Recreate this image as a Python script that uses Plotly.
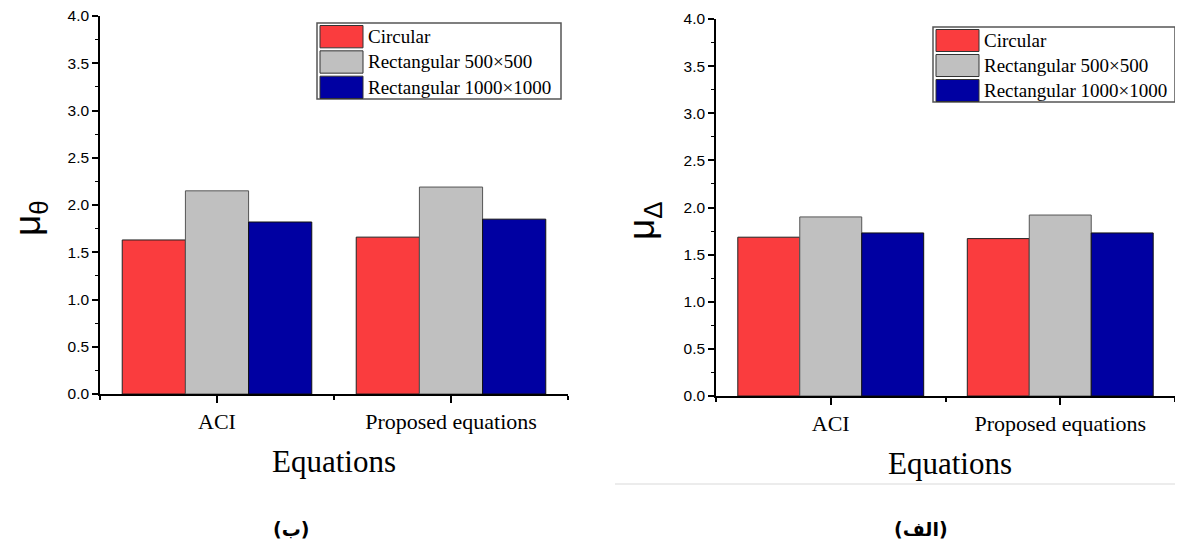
import plotly.graph_objects as go

# reference page size; the figure is offset by the page's 8px body margin
PAGE_W, PAGE_H = 1183, 554
OX, OY = 8, 8
W, H = PAGE_W - 2 * OX, PAGE_H - 2 * OY

categories = ["ACI", "Proposed equations"]
series_names = ["Circular", "Rectangular 500×500", "Rectangular 1000×1000"]
mu_theta = {
    "Circular": [1.63, 1.66],
    "Rectangular 500×500": [2.15, 2.19],
    "Rectangular 1000×1000": [1.82, 1.85],
}
mu_delta = {
    "Circular": [1.685, 1.67],
    "Rectangular 500×500": [1.90, 1.92],
    "Rectangular 1000×1000": [1.73, 1.73],
}
y_ticks = [0.0, 0.5, 1.0, 1.5, 2.0, 2.5, 3.0, 3.5, 4.0]

fill = {"Circular": "#FA3C3E", "Rectangular 500×500": "#C0C0C0", "Rectangular 1000×1000": "#0000A2"}
edge = {"Circular": "#222222", "Rectangular 500×500": "#555555", "Rectangular 1000×1000": "#111111"}


def px(x):
    return min(max((x - OX) / W, 0), 1)


def py(y):
    return min(max(1 - (y - OY) / H, 0), 1)


xpos = list(range(len(categories)))

fig = go.Figure()
for name in series_names:
    fig.add_trace(go.Bar(x=xpos, y=mu_theta[name], name=name, xaxis="x", yaxis="y",
                         marker=dict(color=fill[name], line=dict(color=edge[name], width=1)),
                         showlegend=False))
for name in series_names:
    fig.add_trace(go.Bar(x=xpos, y=mu_delta[name], name=name, xaxis="x2", yaxis="y2",
                         marker=dict(color=fill[name], line=dict(color=edge[name], width=1)),
                         showlegend=False))

tick_font = dict(family="Liberation Sans, Arial", size=15.5, color="#000")
cat_font = dict(family="Liberation Serif, Times New Roman", size=22, color="#000")


def xax(domain, anchor):
    return dict(domain=domain, anchor=anchor, range=[-0.5, len(categories) - 0.5], tickmode="array",
                tickvals=xpos, ticktext=categories, ticks="outside", ticklen=7, tickwidth=1.5,
                tickcolor="#000", showline=True, linecolor="#000", linewidth=1.5,
                showgrid=False, zeroline=False, tickfont=cat_font, automargin=False,
                ticklabeloverflow="allow",
                minor=dict(tickmode="linear", tick0=-0.5, dtick=1, ticks="outside", ticklen=4,
                           tickwidth=1.5, tickcolor="#000"))


def yax(domain, anchor):
    return dict(domain=domain, anchor=anchor, range=[0, 4], tickmode="array", tickvals=y_ticks,
                tickformat=".1f", ticks="outside", ticklen=6, tickwidth=1.5, tickcolor="#000",
                showline=True, linecolor="#000", linewidth=1.5, showgrid=False, zeroline=False,
                tickfont=tick_font, automargin=False, ticklabeloverflow="allow",
                minor=dict(tickmode="linear", tick0=0, dtick=0.25, ticks="outside", ticklen=3,
                           tickwidth=1.2, tickcolor="#000"))


fig.update_layout(
    width=W, height=H, autosize=False, margin=dict(l=0, r=0, t=0, b=0, pad=0),
    paper_bgcolor="white", plot_bgcolor="white",
    barmode="group", bargap=0.19, bargroupgap=0,
    xaxis=xax([px(100), px(568)], "y"),
    yaxis=yax([py(394), py(16)], "x"),
    xaxis2=xax([px(716), px(1183)], "y2"),
    yaxis2=yax([py(396), py(19)], "x2"),
)

annotations = []
shapes = []


def label(x, y, text, font, **kw):
    d = dict(x=px(x), y=py(y), xref="paper", yref="paper", text=text, showarrow=False,
             xanchor="center", yanchor="middle", font=font, borderpad=0)
    d.update(kw)
    annotations.append(d)


mu_font = dict(family="Liberation Sans, Arial", size=37, color="#000")
label(30, 218, "μ<sub>θ</sub>", mu_font, textangle=-90)
label(644, 220, "μ<sub>Δ</sub>", mu_font, textangle=-90)

eq_font = dict(family="Liberation Serif, Times New Roman", size=31, color="#000")
label(334, 461, "Equations", eq_font)
label(950, 463, "Equations", eq_font)

cap_font = dict(family="DejaVu Sans", size=19, color="#000")
label(291, 529, "<b>(ب)</b>", cap_font)
label(921, 529, "<b>(الف)</b>", cap_font)

# legends
leg_font = dict(family="Liberation Serif, Times New Roman", size=19, color="#000")
for (bx0, by0, bx1, by1) in [(317, 23, 561, 99), (933, 27, 1177, 102)]:
    shapes.append(dict(type="rect", xref="paper", yref="paper", x0=px(bx0), x1=px(bx1),
                       y0=py(by1), y1=py(by0), line=dict(color="#555", width=1.5),
                       fillcolor="white", layer="above"))
    row_h = (by1 - by0) / 3
    for i, name in enumerate(series_names):
        top = by0 + 2.5 + i * row_h
        bot = top + row_h - 3
        shapes.append(dict(type="rect", xref="paper", yref="paper", x0=px(bx0 + 3), x1=px(bx0 + 46),
                           y0=py(bot), y1=py(top), line=dict(color="#333", width=1),
                           fillcolor=fill[name], layer="above"))
        label(bx0 + 50, (top + bot) / 2, name, leg_font, xanchor="left")

# faint page separator line
shapes.append(dict(type="line", xref="paper", yref="paper", x0=px(615), x1=1, y0=py(484), y1=py(484),
                   line=dict(color="#e6e6e6", width=1.5)))

fig.update_layout(annotations=annotations, shapes=shapes)
fig.write_html("out.html")
